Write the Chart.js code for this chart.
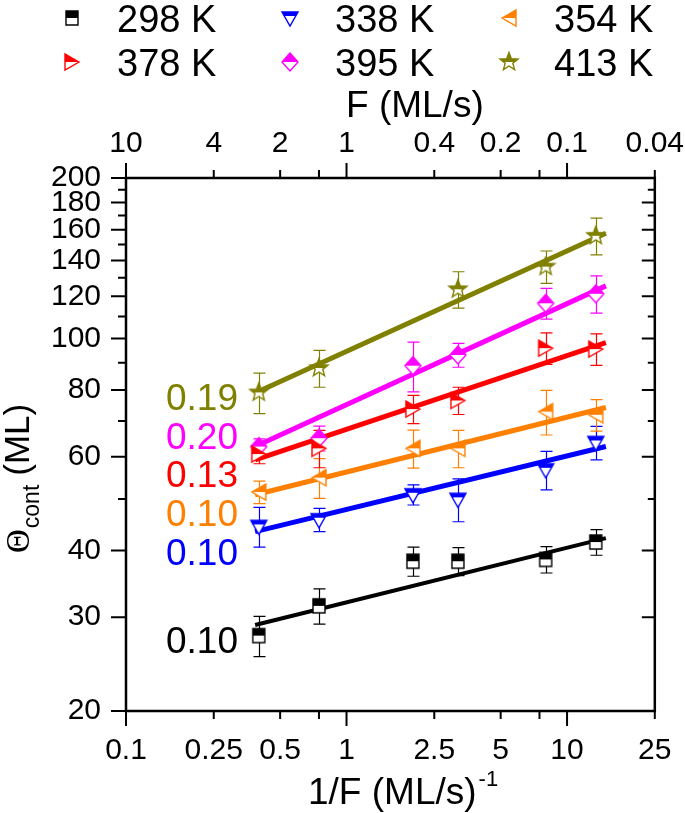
<!DOCTYPE html>
<html>
<head>
<meta charset="utf-8">
<script src="https://cdn.jsdelivr.net/npm/chart.js@4.4.0/dist/chart.umd.min.js"></script>
<style>
  html, body { margin: 0; padding: 0; background: #fff; }
  #wrap { width: 685px; height: 813px; }
</style>
</head>
<body>
<div id="wrap"><canvas id="chart" width="685" height="813"></canvas></div>
<script>
// 1/F in (ML/s)^-1, one entry per deposition flux
const invFlux = [0.4, 0.75, 2, 3.2, 8, 13.5];

// Theta_cont (ML) and error half-widths for each temperature
const theta298 = [27.7, 31.5, 38.2, 38.2, 38.5, 41.5];
const err298 = [2.4, 2.4, 2.4, 2.3, 2.2, 2.3];
const theta338 = [44.4, 45.7, 50.9, 49.9, 56.7, 63.8];
const err338 = [3.8, 2.3, 2.2, 4.6, 4.7, 4.6];
const theta354 = [51.5, 54.8, 62.2, 62.2, 72.9, 71.9];
const err354 = [2.5, 4.7, 5.1, 5.0, 7.0, 4.9];
const theta378 = [60.7, 62.2, 73.7, 76.5, 95.9, 95.5];
const err378 = [2.5, 5.0, 4.5, 4.5, 6.5, 6.5];
const theta395 = [62.7, 65.0, 88.9, 93.1, 116.4, 121.3];
const err395 = [2.1, 3.5, 9.5, 4.8, 7.7, 9.7];
const theta413 = [79.2, 88.0, null, 123.7, 136.4, 155.8];
const err413 = [6.9, 7.0, null, 9.7, 9.5, 12.3];

// power-law fits, value at start and end of fitRange
const fitRange = [0.385, 15];
const fit298 = [29.0, 42.2];
const fit338 = [43.4, 62.7];
const fit354 = [50.9, 74.2];
const fit378 = [59.2, 98.2];
const fit395 = [62.7, 125.5];
const fit413 = [79.0, 157.6];

const temps = ["298 K", "338 K", "354 K", "378 K", "395 K", "413 K"];
const slopes = ["0.10", "0.10", "0.10", "0.13", "0.20", "0.19"];

// axis ticks
const xTicks = [0.1, 0.25, 0.5, 1, 2.5, 5, 10, 25];
const xMajor = [0.1, 1, 10];
const xMinor = [0.75, 7.5];
const xTickLabels = ["0.1", "0.25", "0.5", "1", "2.5", "5", "10", "25"];
const fluxTickLabels = ["10", "4", "2", "1", "0.4", "0.2", "0.1", "0.04"];
const yTicks = [20, 30, 40, 60, 80, 100, 120, 140, 160, 180, 200];
const yMinor = [50, 70, 90, 110, 130, 150, 170, 190];

const FONT = "'Liberation Sans', Arial, sans-serif";
const colors = ["#000000", "#0000ff", "#ff8000", "#ff0000", "#ff00ff", "#808000"];
const shapes = ["square", "down", "left", "right", "diamond", "star"];
const values = [theta298, theta338, theta354, theta378, theta395, theta413];
const errors = [err298, err338, err354, err378, err395, err413];
const fits = [fit298, fit338, fit354, fit378, fit395, fit413];

// half filled markers (top half solid, bottom hollow)
function makeMarker(shape, color) {
  const c = document.createElement("canvas");
  c.width = 22; c.height = 22;
  const g = c.getContext("2d");
  const cx = 11, cy = 11;
  g.beginPath();
  if (shape === "square") {
    g.rect(cx - 6, cy - 7, 12, 14);
  } else if (shape === "down") {
    g.moveTo(cx - 8, cy - 6); g.lineTo(cx + 8, cy - 6); g.lineTo(cx, cy + 8); g.closePath();
  } else if (shape === "left") {
    g.moveTo(cx - 7, cy); g.lineTo(cx + 7, cy - 8); g.lineTo(cx + 7, cy + 8); g.closePath();
  } else if (shape === "right") {
    g.moveTo(cx + 7, cy); g.lineTo(cx - 7, cy - 8); g.lineTo(cx - 7, cy + 8); g.closePath();
  } else if (shape === "diamond") {
    g.moveTo(cx, cy - 9); g.lineTo(cx + 8, cy); g.lineTo(cx, cy + 9); g.lineTo(cx - 8, cy); g.closePath();
  } else {
    for (let k = 0; k < 10; k++) {
      const r = k % 2 === 0 ? 9.5 : 4;
      const a = -Math.PI / 2 + k * Math.PI / 5;
      const px = cx + r * Math.cos(a), py = cy + r * Math.sin(a);
      if (k === 0) g.moveTo(px, py); else g.lineTo(px, py);
    }
    g.closePath();
  }
  g.fillStyle = "#fff";
  g.fill();
  g.save();
  g.clip();
  g.fillStyle = color;
  g.fillRect(0, 0, 22, shape === "down" ? cy - 2 : cy);
  g.restore();
  g.lineWidth = 1.4;
  g.strokeStyle = color;
  g.stroke();
  return c;
}
const markers = shapes.map((s, i) => makeMarker(s, colors[i]));

const datasets = [];
values.forEach((vals, i) => {
  datasets.push({
    label: temps[i],
    data: invFlux.map((x, j) => ({ x: x, y: vals[j] })).filter(p => p.y != null),
    showLine: false,
    pointStyle: markers[i],
    pointRadius: 6,
    order: 0
  });
});
fits.forEach((f, i) => {
  datasets.push({
    label: temps[i] + " fit",
    data: fitRange.map((x, j) => ({ x: x, y: f[j] })),
    showLine: true,
    borderColor: colors[i],
    borderWidth: i === 0 ? 4 : 5,
    pointRadius: 0,
    order: 1
  });
});

const errorBars = {
  id: "errorBars",
  beforeDatasetsDraw(chart) {
    const ctx = chart.ctx, xs = chart.scales.x, ys = chart.scales.y;
    ctx.save();
    ctx.lineWidth = 1.2;
    values.forEach((vals, i) => {
      ctx.strokeStyle = colors[i];
      vals.forEach((v, j) => {
        if (v == null) return;
        const px = Math.round(xs.getPixelForValue(invFlux[j])) + 0.5;
        const t = ys.getPixelForValue(v + errors[i][j]);
        const b = ys.getPixelForValue(v - errors[i][j]);
        ctx.beginPath();
        ctx.moveTo(px, t); ctx.lineTo(px, b);
        ctx.moveTo(px - 6, t); ctx.lineTo(px + 6, t);
        ctx.moveTo(px - 6, b); ctx.lineTo(px + 6, b);
        ctx.stroke();
      });
    });
    ctx.restore();
  }
};

const frame = {
  id: "frame",
  afterDraw(chart) {
    const ctx = chart.ctx, a = chart.chartArea;
    const xs = chart.scales.x, ys = chart.scales.y;
    ctx.save();
    ctx.strokeStyle = "#000";
    ctx.lineWidth = 2.5;
    ctx.strokeRect(a.left, a.top, a.right - a.left, a.bottom - a.top);
    ctx.lineWidth = 2;
    ctx.beginPath();
    xTicks.concat(xMinor).forEach(v => {
      const len = xMajor.includes(v) ? 15 : 8;
      const px = xs.getPixelForValue(v);
      ctx.moveTo(px, a.bottom); ctx.lineTo(px, a.bottom + len);
      ctx.moveTo(px, a.top); ctx.lineTo(px, a.top - len);
    });
    yTicks.concat(yMinor).forEach(v => {
      const minor = yMinor.includes(v);
      const py = ys.getPixelForValue(v);
      ctx.moveTo(a.left, py); ctx.lineTo(a.left - (minor ? 8 : 15), py);
      ctx.moveTo(a.right, py); ctx.lineTo(a.right - (minor ? 7 : 13), py);
    });
    ctx.stroke();

    // legend
    ctx.fillStyle = "#000";
    ctx.font = "38px " + FONT;
    ctx.textBaseline = "alphabetic";
    const colX = [72, 290, 509], rowY = [18, 62];
    temps.forEach((t, i) => {
      const cx = colX[i % 3], cy = rowY[Math.floor(i / 3)];
      ctx.drawImage(markers[i], cx - 11, cy - 11);
      ctx.fillText(t, cx + 45, cy + 14);
    });

    // slope labels
    const slopeY = [640, 552, 513, 474, 436, 397];
    ctx.font = "37px " + FONT;
    slopes.forEach((s, i) => {
      ctx.fillStyle = colors[i];
      ctx.fillText(s, 166, slopeY[i] + 13);
    });

    // axis titles
    ctx.fillStyle = "#000";
    ctx.font = "37px " + FONT;
    ctx.fillText("F (ML/s)", 346, 117);
    ctx.fillText("1/F (ML/s)", 308, 804);
    const w = ctx.measureText("1/F (ML/s)").width;
    ctx.font = "22px " + FONT;
    ctx.fillText("-1", 308 + w + 2, 786);

    ctx.save();
    ctx.translate(29, 553);
    ctx.rotate(-Math.PI / 2);
    ctx.font = "33px 'Liberation Serif', serif";
    ctx.fillText("\u0398", 0, 0);
    let off = ctx.measureText("\u0398").width;
    ctx.font = "23px " + FONT;
    ctx.fillText("cont", off + 1, 10);
    off += ctx.measureText("cont").width + 10;
    ctx.font = "35px " + FONT;
    ctx.fillText("(ML)", off, 0);
    ctx.restore();
    ctx.restore();
  }
};

const tickFont = { family: FONT, size: 30 };

new Chart(document.getElementById("chart"), {
  type: "scatter",
  data: { datasets: datasets },
  options: {
    responsive: false,
    animation: false,
    devicePixelRatio: 1,
    layout: { padding: 0 },
    plugins: { legend: { display: false }, tooltip: { enabled: false } },
    scales: {
      x: {
        type: "logarithmic", position: "bottom", min: 0.1, max: 25,
        afterBuildTicks: s => { s.ticks = xTicks.map(v => ({ value: v })); },
        afterFit: s => { s.height = 102; },
        grid: { display: false, drawTicks: true, tickLength: 15 },
        border: { display: false },
        ticks: { autoSkip: false, maxRotation: 0, padding: 7, color: "#000", font: tickFont,
          callback: (v, i) => xTickLabels[i] }
      },
      x2: {
        type: "logarithmic", position: "top", min: 0.1, max: 25,
        afterBuildTicks: s => { s.ticks = xTicks.map(v => ({ value: v })); },
        afterFit: s => { s.height = 178; },
        grid: { display: false, drawTicks: true, tickLength: 15 },
        border: { display: false },
        ticks: { autoSkip: false, maxRotation: 0, padding: 1, color: "#000", font: tickFont,
          callback: (v, i) => fluxTickLabels[i] }
      },
      y: {
        type: "logarithmic", position: "left", min: 20, max: 200,
        afterBuildTicks: s => { s.ticks = yTicks.map(v => ({ value: v })); },
        afterFit: s => { s.width = 126; },
        grid: { display: false, drawTicks: true, tickLength: 15 },
        border: { display: false },
        ticks: { autoSkip: false, padding: 10, color: "#000", font: tickFont,
          callback: (v, i) => String(yTicks[i]) }
      },
      y2: {
        type: "logarithmic", position: "right", min: 20, max: 200,
        afterFit: s => { s.width = 27; },
        grid: { display: false },
        border: { display: false },
        ticks: { display: false }
      }
    }
  },
  plugins: [errorBars, frame]
});
</script>
</body>
</html>
